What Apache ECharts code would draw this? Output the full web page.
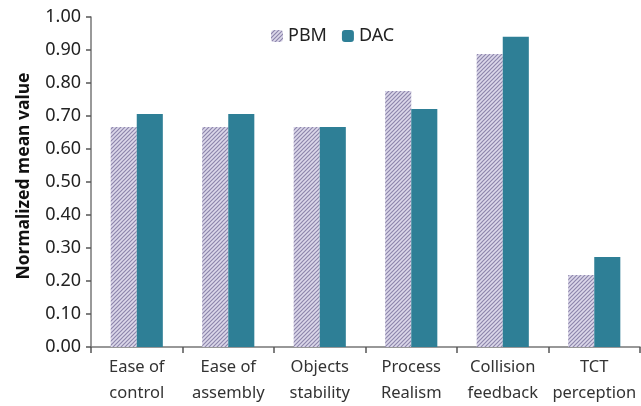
<!DOCTYPE html>
<html>
<head>
<meta charset="utf-8">
<script src="https://cdn.jsdelivr.net/npm/echarts@6/dist/echarts.min.js"></script>
<style>
* { margin: 0; padding: 0; }
html, body { background: #fff; }
</style>
</head>
<body>
<div id="main" style="width:641px;height:406px;"></div>
<script>
var categories = ["Ease of\ncontrol", "Ease of\nassembly", "Objects\nstability", "Process\nRealism", "Collision\nfeedback", "TCT\nperception"];
var pbmValues = [0.667, 0.667, 0.667, 0.776, 0.888, 0.218];
var dacValues = [0.706, 0.706, 0.667, 0.721, 0.940, 0.273];
var yTicks = [0, 0.1, 0.2, 0.3, 0.4, 0.5, 0.6, 0.7, 0.8, 0.9, 1.0];

// hatch pattern for PBM
function makeHatch() {
  var c = document.createElement("canvas");
  c.width = 4; c.height = 4;
  var ctx = c.getContext("2d");
  ctx.fillStyle = "#dcd8ea";
  ctx.fillRect(0, 0, 4, 4);
  ctx.strokeStyle = "#8d86ac";
  ctx.lineWidth = 1.2;
  ctx.beginPath();
  ctx.moveTo(0, 4); ctx.lineTo(4, 0);
  ctx.moveTo(-1, 1); ctx.lineTo(1, -1);
  ctx.moveTo(3, 5); ctx.lineTo(5, 3);
  ctx.stroke();
  return c;
}
var hatch = { image: makeHatch(), repeat: "repeat" };

var chart = echarts.init(document.getElementById("main"));
chart.setOption({
  animation: false,
  textStyle: { fontFamily: "Noto Sans" },
  legend: {
    top: 22,
    left: 266,
    itemWidth: 12,
    itemHeight: 12,
    itemGap: 15,
    textStyle: { fontSize: 18, color: "#222", fontFamily: "Noto Sans" },
    data: [
      { name: "PBM", itemStyle: { color: hatch } },
      { name: "DAC" }
    ]
  },
  grid: { left: 91, right: 1, top: 17, bottom: 59 },
  xAxis: {
    type: "category",
    data: categories,
    axisLine: { lineStyle: { color: "#777", width: 1.5 } },
    axisTick: { show: true, length: 6, alignWithLabel: false, lineStyle: { color: "#555", width: 1.5 } },
    axisLabel: { fontSize: 16.5, color: "#333", lineHeight: 26, margin: 7, interval: 0 }
  },
  yAxis: {
    type: "value",
    min: 0,
    max: 1,
    interval: 0.1,
    name: "Normalized mean value",
    nameLocation: "middle",
    nameGap: 58,
    nameTextStyle: { fontSize: 17.5, fontWeight: "bold", color: "#111", padding: [0, 0, 0, 12] },
    axisLine: { show: true, lineStyle: { color: "#777", width: 1.5 } },
    axisTick: { show: true, inside: false, length: 5, lineStyle: { color: "#555", width: 1.5 } },
    splitLine: { show: false },
    axisLabel: {
      fontSize: 18, color: "#222", margin: 10,
      formatter: function (v) { return v.toFixed(2); }
    }
  },
  series: [
    {
      name: "PBM",
      type: "bar",
      data: pbmValues,
      barGap: "0%",
      barCategoryGap: "43%",
      itemStyle: { color: hatch }
    },
    {
      name: "DAC",
      type: "bar",
      data: dacValues,
      itemStyle: { color: "#2e7f96" }
    }
  ]
});
</script>
</body>
</html>
